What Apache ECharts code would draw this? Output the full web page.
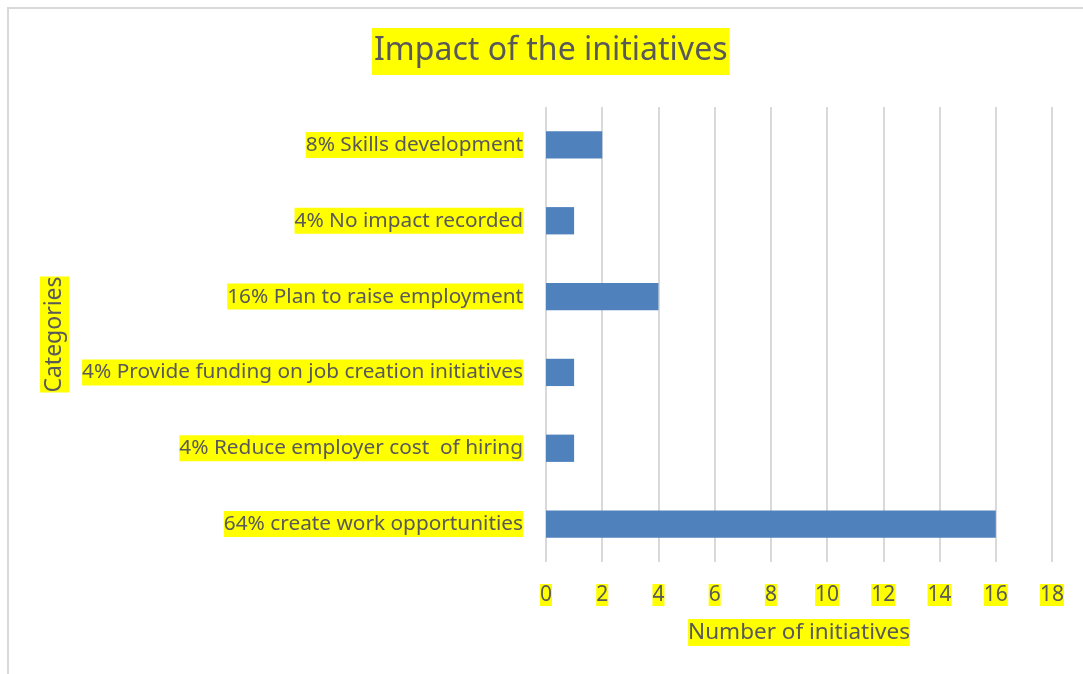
<!DOCTYPE html>
<html>
<head>
<meta charset="utf-8">
<script src="https://cdn.jsdelivr.net/npm/echarts@6/dist/echarts.min.js"></script>
<style>
  html, body { margin: 0; padding: 0; background: #fff; }
  #chart { width: 1083px; height: 674px; }
</style>
</head>
<body>
<div id="chart"></div>
<script>
// Impact categories, listed top to bottom
const categories = [
  '8% Skills development',
  '4% No impact recorded',
  '16% Plan to raise employment',
  '4% Provide funding on job creation initiatives',
  '4% Reduce employer cost  of hiring',
  '64% create work opportunities'
];
// Number of initiatives per category
const initiativeCounts = [2, 1, 4, 1, 1, 16];

const FONT = 'Noto Sans';
const TEXT = '#595959';
const HILITE = '#ffff00';

const chart = echarts.init(document.getElementById('chart'));
chart.setOption({
  animation: false,
  backgroundColor: '#ffffff',
  textStyle: { fontFamily: FONT },
  graphic: [{
    type: 'rect',
    shape: { x: 8, y: 8, width: 1200, height: 800 },
    style: { fill: 'none', stroke: '#d9d9d9', lineWidth: 2 },
    silent: true,
    z: -10
  }],
  title: {
    text: 'Impact of the initiatives',
    left: 372,
    top: 28,
    backgroundColor: HILITE,
    padding: [7, 2, 8, 2],
    textStyle: {
      fontFamily: FONT, fontSize: 32, fontWeight: 'normal', color: TEXT
    }
  },
  grid: { left: 546, right: 31, top: 107, bottom: 112, containLabel: false },
  xAxis: {
    type: 'value',
    min: 0, max: 18, interval: 2,
    name: 'Number of initiatives',
    nameLocation: 'middle',
    nameGap: 57,
    nameTextStyle: {
      fontFamily: FONT, fontSize: 22.5, color: TEXT,
      backgroundColor: HILITE, padding: [2, 0, 2, 0]
    },
    axisLine: { show: false },
    axisTick: { show: false },
    axisLabel: {
      margin: 22, fontFamily: FONT, fontSize: 21, color: TEXT,
      backgroundColor: HILITE, padding: [1, 0, 0, 0]
    },
    splitLine: { show: true, lineStyle: { color: '#d9d9d9', width: 2 } }
  },
  yAxis: {
    type: 'category',
    data: categories,
    inverse: true,
    name: 'Categories',
    nameLocation: 'middle',
    nameRotate: 90,
    nameGap: 477,
    nameTextStyle: {
      fontFamily: FONT, fontSize: 23, color: TEXT,
      backgroundColor: HILITE, padding: [3, 0, 3, 0]
    },
    axisLine: { show: false },
    axisTick: { show: false },
    axisLabel: {
      margin: 23, fontFamily: FONT, fontSize: 20.8, color: TEXT,
      backgroundColor: HILITE, padding: [3, 0, 2, 0]
    }
  },
  series: [{
    type: 'bar',
    data: initiativeCounts,
    barWidth: '36%',
    itemStyle: { color: '#4f81bd' }
  }]
});
</script>
</body>
</html>
